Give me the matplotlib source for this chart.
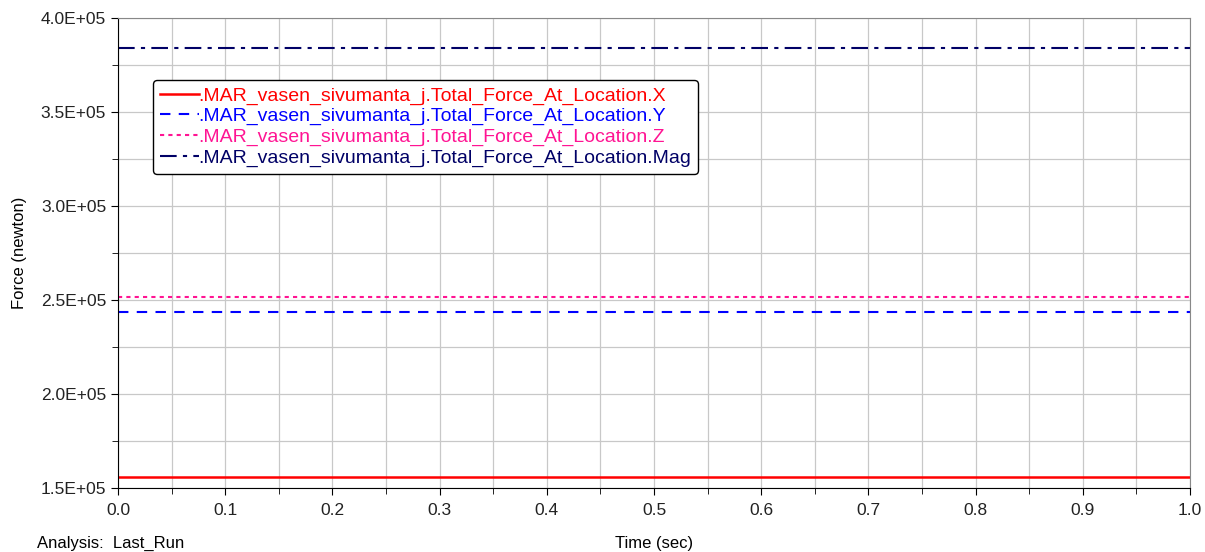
import matplotlib.pyplot as plt
from matplotlib.ticker import MultipleLocator, FormatStrFormatter

plt.rcParams['font.family'] = ['Liberation Sans', 'DejaVu Sans']

# time axis (sec) and constant force results (newton)
t = [0.0, 1.0]
force_x = [155850, 155850]
force_y = [243600, 243600]
force_z = [251600, 251600]
force_mag = [384000, 384000]

names = ['.MAR_vasen_sivumanta_j.Total_Force_At_Location.X',
         '.MAR_vasen_sivumanta_j.Total_Force_At_Location.Y',
         '.MAR_vasen_sivumanta_j.Total_Force_At_Location.Z',
         '.MAR_vasen_sivumanta_j.Total_Force_At_Location.Mag']
colors = ['#ff0000', '#0000ff', '#ff1493', '#000066']

fig = plt.figure(figsize=(12.05, 5.52), dpi=100)
ax = fig.add_axes([118/1205, 1-488/552, 1072/1205, 470/552])

ax.plot(t, force_x, color=colors[0], lw=1.8, ls='-', label=names[0])
ax.plot(t, force_y, color=colors[1], lw=1.5, ls=(0, (5, 4)), label=names[1])
ax.plot(t, force_z, color=colors[2], lw=1.5, ls=(0, (2, 2)), label=names[2])
ax.plot(t, force_mag, color=colors[3], lw=1.5, ls=(0, (8, 3, 2, 3)), label=names[3])

ax.set_xlim(0, 1)
ax.set_ylim(1.5e5, 4.0e5)
ax.xaxis.set_major_locator(MultipleLocator(0.1))
ax.xaxis.set_minor_locator(MultipleLocator(0.05))
ax.yaxis.set_major_locator(MultipleLocator(0.5e5))
ax.yaxis.set_minor_locator(MultipleLocator(0.25e5))
ax.xaxis.set_major_formatter(FormatStrFormatter('%.1f'))
ax.yaxis.set_major_formatter(FormatStrFormatter('%.1E'))
ax.grid(True, which='both', color='#c8c8c8', lw=0.9)
ax.set_axisbelow(True)
ax.tick_params(which='major', length=5, labelsize=12.5, colors='black', labelcolor='#222222')
ax.tick_params(which='minor', length=4)
ax.tick_params(axis='x', pad=6)
for s in ['top', 'right']:
    ax.spines[s].set_color('#888888')

ax.set_ylabel('Force (newton)', fontsize=12, labelpad=10)
ax.set_xlabel('Time (sec)', fontsize=12, labelpad=13)
fig.text(37/1205, 1-543/552, 'Analysis:  Last_Run', fontsize=12, va='center')

leg = ax.legend(loc='upper left', bbox_to_anchor=(0.0326, 0.868), fontsize=14,
                handlelength=2.0, handletextpad=0.0, borderpad=0.35,
                labelspacing=0.15, borderaxespad=0, fancybox=True,
                framealpha=1, edgecolor='black')
leg.get_frame().set_linewidth(1.0)
for txt, c in zip(leg.get_texts(), colors):
    txt.set_color(c)

fig.savefig('out.png', dpi=100)
